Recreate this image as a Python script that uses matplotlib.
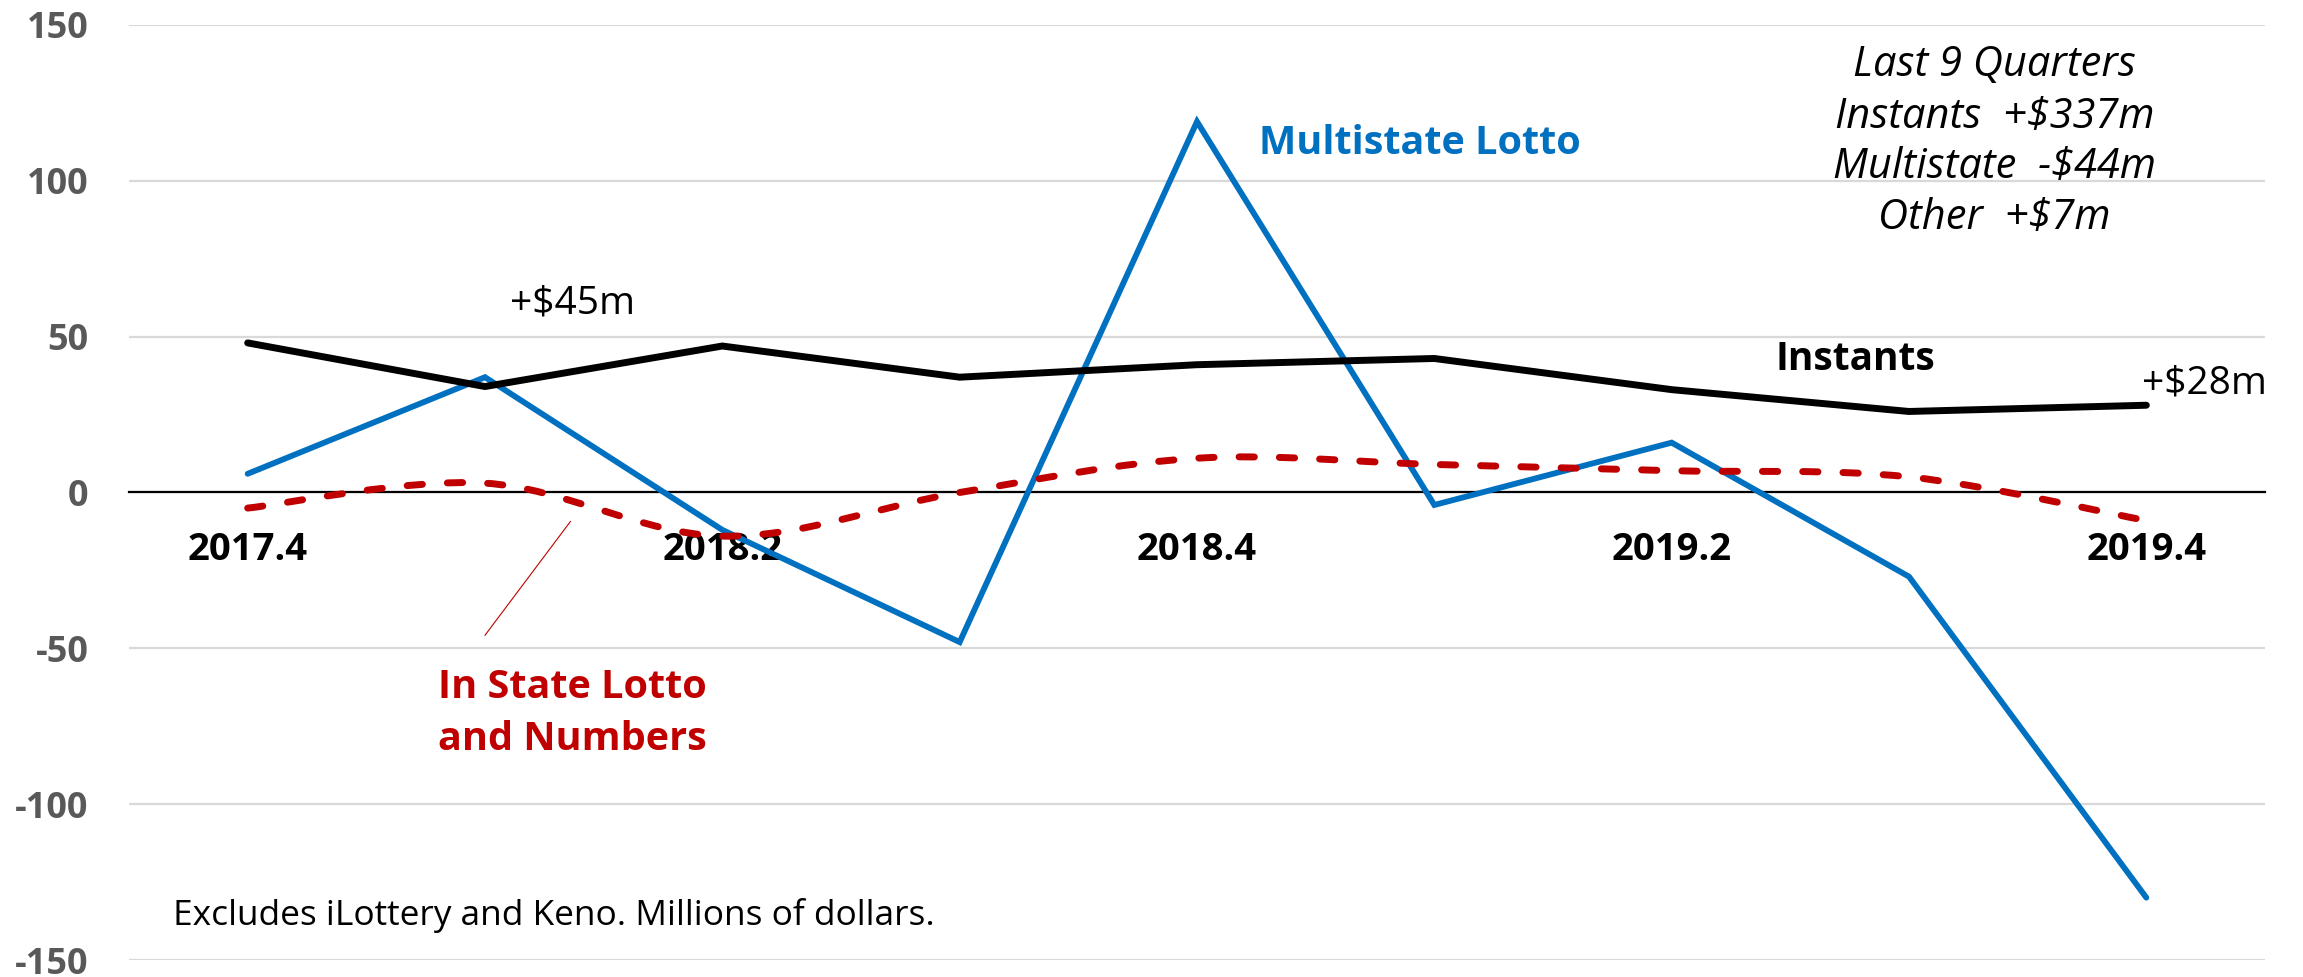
import matplotlib
matplotlib.use("Agg")
import matplotlib.pyplot as plt
from matplotlib.path import Path
from matplotlib.patches import PathPatch
import numpy as np

quarters = ["2017.4", "2018.1", "2018.2", "2018.3", "2018.4", "2019.1", "2019.2", "2019.3", "2019.4"]
shown_labels = [0, 2, 4, 6, 8]
instants = [48, 34, 47, 37, 41, 43, 33, 26, 28]
multistate = [6, 37, -12, -48, 119, -4, 16, -27, -130]
instate = [-5, 3, -14, 0, 11, 9, 7, 5, -9]
y_ticks = [150, 100, 50, 0, -50, -100, -150]

summary_lines = ["Last 9 Quarters", "Instants  +$337m", "Multistate  -$44m", "Other  +$7m"]

plt.rcParams['font.family'] = ['Open Sans', 'DejaVu Sans']

W, H, DPI = 2303, 977, 100
fig = plt.figure(figsize=(W / DPI, H / DPI), dpi=DPI)
ax = fig.add_axes([129 / W, 1 - 960 / H, (2265 - 129) / W, (960 - 25) / H])

x = np.arange(len(quarters))
ax.set_xlim(-0.5, len(quarters) - 0.5)
ax.set_ylim(-150, 150)
ax.set_yticks(y_ticks)
ax.set_yticklabels([str(v) for v in y_ticks])
ax.set_xticks(shown_labels)
ax.set_xticklabels([quarters[i] for i in shown_labels])

ax.grid(axis='y', color='#D9D9D9', linewidth=1.6, zorder=0)
ax.set_axisbelow(True)
for s in ['top', 'right', 'left']:
    ax.spines[s].set_visible(False)
ax.spines['bottom'].set_position(('data', 0))
ax.spines['bottom'].set_color('black')
ax.spines['bottom'].set_linewidth(1.6)
ax.spines['bottom'].set_zorder(1)
ax.tick_params(axis='y', length=0, pad=29, labelsize=26, labelcolor='#595959')
ax.tick_params(axis='x', length=0, pad=28, labelsize=27.5, labelcolor='black')
for t in ax.get_yticklabels():
    t.set_fontweight('bold')
for t in ax.get_xticklabels():
    t.set_fontweight('bold')

# Instants
ax.plot(x, instants, color='black', linewidth=5, solid_capstyle='round', solid_joinstyle='round', zorder=4)
# Multistate
ax.plot(x, multistate, color='#0070C0', linewidth=4.2, solid_capstyle='round', solid_joinstyle='miter', zorder=3)

# In state smoothed (Bezier through data points)
ys = np.array(instate, dtype=float)
xs = x.astype(float)
verts = [(xs[0], ys[0])]
codes = [Path.MOVETO]
n = len(xs)
for i in range(n - 1):
    p0 = np.array([xs[max(i - 1, 0)], ys[max(i - 1, 0)]])
    p1 = np.array([xs[i], ys[i]])
    p2 = np.array([xs[i + 1], ys[i + 1]])
    p3 = np.array([xs[min(i + 2, n - 1)], ys[min(i + 2, n - 1)]])
    c1 = p1 + (p2 - p0) / 6.0
    c2 = p2 - (p3 - p1) / 6.0
    verts += [tuple(c1), tuple(c2), tuple(p2)]
    codes += [Path.CURVE4] * 3
path = Path(verts, codes)
patch = PathPatch(path, facecolor='none', edgecolor='#C00000', linewidth=5,
                  linestyle=(0, (2.2, 3.6)), capstyle='round', zorder=3,
                  transform=ax.transData)
ax.add_patch(patch)

# Annotations
ax.text(1.105, 57.4, "+$45m", fontsize=28, color='black', ha='left', va='baseline')
ax.text(4.26, 108.7, "Multistate Lotto", fontsize=28.5, fontweight='bold', color='#0070C0', ha='left', va='baseline')
ax.text(6.436, 39.4, "Instants", fontsize=28, fontweight='bold', color='black', ha='left', va='baseline')
ax.text(7.98, 31.7, "+$28m", fontsize=28, color='black', ha='left', va='baseline')
ax.text(0.803, -66.0, "In State Lotto", fontsize=28.5, fontweight='bold', color='#C00000', ha='left', va='baseline')
ax.text(0.803, -82.7, "and Numbers", fontsize=28.5, fontweight='bold', color='#C00000', ha='left', va='baseline')
ax.plot([1.36, 1.0], [-9.3, -45.8], color='#C00000', linewidth=0.8, zorder=2)
ax.text(-0.314, -138.8, "Excludes iLottery and Keno. Millions of dollars.", fontsize=25.4, color='black', ha='left', va='baseline')

summary_y = [133.7, 117.0, 101.0, 84.6]
for line, yy in zip(summary_lines, summary_y):
    ax.text(7.36, yy, line, fontsize=30, style='italic', color='black', ha='center', va='baseline')

fig.savefig("out.png", dpi=DPI, facecolor='white')
